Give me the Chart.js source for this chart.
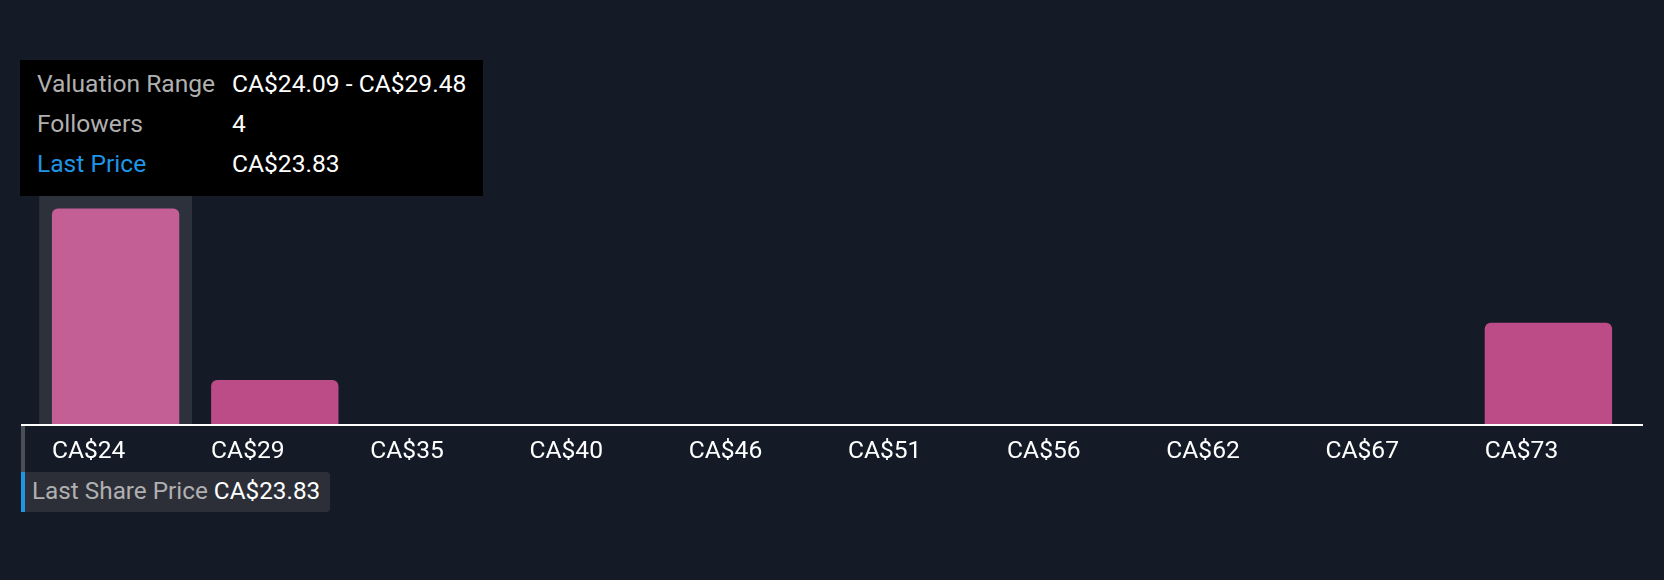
<!DOCTYPE html>
<html>
<head>
<meta charset="utf-8">
<script src="https://cdn.jsdelivr.net/npm/chart.js@4.4.1/dist/chart.umd.min.js"></script>
<style>
  html, body { margin: 0; padding: 0; background: #151b26; }
  #wrap { position: relative; width: 1664px; height: 580px; font-family: Roboto, sans-serif; }
  #tip {
    position: absolute; left: 20px; top: 60px; width: 463px; height: 136px;
    box-sizing: border-box; padding: 4px 0 0 17px; background: #000;
    font-size: 24.6px; line-height: 40px; color: #fff;
  }
  #tip .row { display: flex; white-space: nowrap; }
  #tip .k { width: 195px; color: #b0b0b0; }
  #tip .k.blue { color: #1f95e6; }
  #price {
    position: absolute; top: 472px; height: 40px; box-sizing: border-box;
    padding: 0 10px 0 7px; background: #2c2f38; border-left: 4px solid #1f95e6;
    border-radius: 0 4px 4px 0; font-size: 24.3px; line-height: 38px; color: #fff; white-space: nowrap;
  }
  #price span { color: #b0b0b0; }
</style>
</head>
<body>
<div id="wrap">
  <canvas id="myChart" width="1664" height="580"></canvas>
  <div id="tip"></div>
  <div id="price"></div>
</div>
<script>
// variables: THE CHART'S DATA
var binLabels = ["CA$24", "CA$29", "CA$35", "CA$40", "CA$46", "CA$51", "CA$56", "CA$62", "CA$67", "CA$73"];
var rangeStarts = [24.09, 29.48, 34.87, 40.26, 45.65, 51.04, 56.43, 61.82, 67.21, 72.60];
var followerCounts = [4, 1, 0, 0, 0, 0, 0, 0, 0, 2];
var lastPrice = 23.83;
var activeIndex = 0;

var money = function(v) {
    return "CA$" + v.toFixed(2);
};

// tooltip box for the hovered bin
var tip = document.querySelector("#tip");
var rows = [
    ["Valuation Range", money(rangeStarts[activeIndex]) + " - " + money(rangeStarts[activeIndex + 1]), ""],
    ["Followers", String(followerCounts[activeIndex]), ""],
    ["Last Price", money(lastPrice), "blue"]
];
rows.forEach(function(r) {
    var row = document.createElement("div");
    row.className = "row";
    var k = document.createElement("div");
    k.className = "k " + r[2];
    k.textContent = r[0];
    var v = document.createElement("div");
    v.textContent = r[1];
    row.appendChild(k);
    row.appendChild(v);
    tip.appendChild(row);
});

var priceBox = document.querySelector("#price");
priceBox.innerHTML = "<span>Last Share Price</span> " + money(lastPrice);

var axisOverhang = 15;

// plugin: hover band, axis line and last price marker
var extras = {
    id: "extras",
    beforeDatasetsDraw: function(chart) {
        var ctx = chart.ctx;
        var area = chart.chartArea;
        var x = chart.scales.x;
        var catW = x.width / binLabels.length;
        var cx = x.getPixelForValue(activeIndex);
        ctx.save();
        ctx.fillStyle = "#2d313b";
        ctx.fillRect(cx - catW * 0.48, area.top, catW * 0.96, area.bottom - area.top);
        ctx.restore();
    },
    afterDraw: function(chart) {
        var ctx = chart.ctx;
        var area = chart.chartArea;
        var x = chart.scales.x;
        var catW = x.width / binLabels.length;
        var axisLeft = area.left - axisOverhang;
        var priceX = x.getPixelForValue(0) - catW / 2 +
            (lastPrice - rangeStarts[0]) / (rangeStarts[1] - rangeStarts[0]) * catW;
        if (lastPrice < rangeStarts[0]) {
            priceX = axisLeft + 1;
        }
        ctx.save();
        ctx.fillStyle = "#ffffff";
        ctx.fillRect(axisLeft, area.bottom, area.right + axisOverhang - axisLeft, 2);
        ctx.fillStyle = "#4a4e57";
        ctx.fillRect(priceX - 1, area.bottom + 2, 4, 46);
        ctx.restore();
        priceBox.style.left = (priceX - 1) + "px";
    }
};

var myChart = document.getElementById("myChart").getContext("2d");

var valuationChart = new Chart(myChart, {
    type: "bar",
    data: {
        labels: binLabels,
        datasets: [{
            data: followerCounts,
            backgroundColor: function(c) {
                return c.dataIndex === activeIndex ? "#c45f96" : "#bc4c87";
            },
            borderRadius: 6,
            borderSkipped: "bottom",
            barPercentage: 0.8,
            categoryPercentage: 1
        }]
    },
    options: {
        responsive: false,
        animation: false,
        events: [],
        layout: {
            padding: { top: 100, left: 36, right: 36, bottom: 0 }
        },
        plugins: {
            legend: { display: false },
            tooltip: { enabled: false }
        },
        scales: {
            x: {
                grid: { display: false },
                border: { display: false },
                ticks: {
                    color: "#ffffff",
                    font: { family: "Roboto", size: 24.6 },
                    align: "start",
                    labelOffset: -63.7,
                    padding: 5,
                    maxRotation: 0,
                    autoSkip: false
                },
                afterFit: function(scale) {
                    scale.height = 156;
                }
            },
            y: {
                display: false,
                min: 0.23,
                max: 5.9
            }
        }
    },
    plugins: [extras]
});
</script>
</body>
</html>
